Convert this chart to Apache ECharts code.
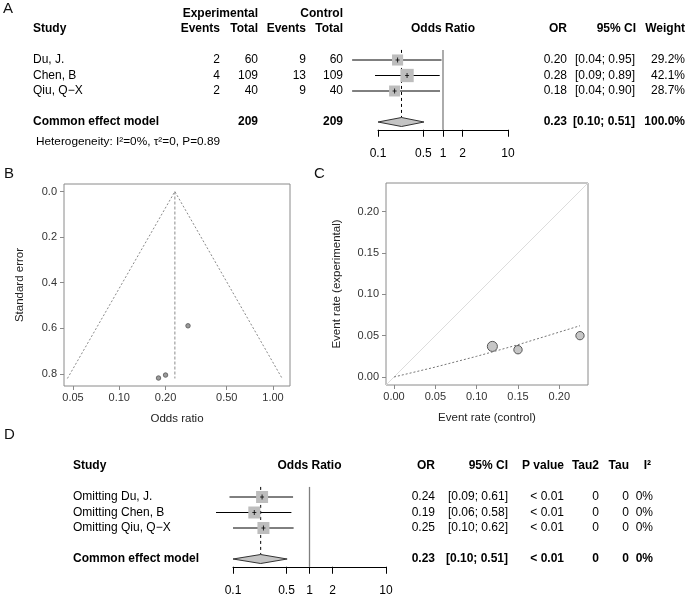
<!DOCTYPE html>
<html>
<head>
<meta charset="utf-8">
<title>Meta-analysis panels</title>
<script src="https://cdn.jsdelivr.net/npm/echarts@6.0.0/dist/echarts.min.js"></script>
<style>
html, body { margin: 0; padding: 0; background: #fff; }
#chart { width: 694px; height: 598px; }
</style>
</head>
<body>
<div id="chart"></div>
<script>
var FONT = '"Liberation Sans", Arial, Helvetica, sans-serif';

// ---- A: common effect model ----
var studies = ['Du, J.', 'Chen, B', 'Qiu, Q\u2212X'];
var expEvents = [2, 4, 2];
var expTotal = [60, 109, 40];
var ctrlEvents = [9, 13, 9];
var ctrlTotal = [60, 109, 40];
var studyOR = [0.20, 0.28, 0.18];
var studyLow = [0.04, 0.09, 0.04];
var studyHigh = [0.95, 0.89, 0.90];
var studyWeight = [29.2, 42.1, 28.7];
var studyRows = [1, 2, 3];
var pooledRow = 5;
var pooledOR = 0.23;
var pooledLow = 0.10;
var pooledHigh = 0.51;
var pooledTotals = [209, 209];
var heterogeneity = 'Heterogeneity: I\u00b2=0%, \u03c4\u00b2=0, P=0.89';
var forestTicks = [0.1, 0.5, 1, 2, 10];
var forestTickLabels = ['0.1', '0.5', '1', '2', '10'];

// ---- B: funnel plot ----
var funnelOR = [0.20, 0.28, 0.18];
var funnelSE = [0.805, 0.589, 0.818];
var funnelEdgeOR = [0.046, 0.23, 1.147];
var funnelEdgeSE = [0.82, 0, 0.82];
var funnelXTicks = [0.05, 0.10, 0.20, 0.50, 1.00];
var funnelXLabels = ['0.05', '0.10', '0.20', '0.50', '1.00'];
var funnelYTicks = [0, 0.2, 0.4, 0.6, 0.8];
var funnelYLabels = ['0.0', '0.2', '0.4', '0.6', '0.8'];

// ---- C: L'Abbe plot ----
var ctrlRate = [0.150, 0.119, 0.225];
var expRate = [0.033, 0.037, 0.050];
var curveCtrl = [0, 0.05, 0.10, 0.15, 0.225];
var curveExp = [0, 0.012, 0.025, 0.039, 0.062];
var rateTicks = [0, 0.05, 0.10, 0.15, 0.20];
var rateLabels = ['0.00', '0.05', '0.10', '0.15', '0.20'];

// ---- D: leave-one-out ----
var looLabels = ['Omitting Du, J.', 'Omitting Chen, B', 'Omitting Qiu, Q\u2212X'];
var looOR = [0.24, 0.19, 0.25];
var looLow = [0.09, 0.06, 0.10];
var looHigh = [0.61, 0.58, 0.62];
var looP = ['< 0.01', '< 0.01', '< 0.01'];
var looTau2 = [0, 0, 0];
var looTau = [0, 0, 0];
var looI2 = ['0%', '0%', '0%'];
var looPooledP = '< 0.01';

// axis extents (R adds 4% around the data)
var funnelXRange = [0.0437, 1.29];
var funnelYRange = [-0.033, 0.853];
var rateRange = [-0.0097, 0.2347];

function f2(v) { return v.toFixed(2); }
function ci(lo, hi) { return '[' + f2(lo) + '; ' + f2(hi) + ']'; }
function pickLabel(ticks, labels) {
    return function (v) {
        for (var i = 0; i < ticks.length; i++) {
            if (Math.abs(ticks[i] - v) < 1e-6 * Math.max(1, ticks[i])) return labels[i];
        }
        return '';
    };
}
function font(size, bold) { return (bold ? 'bold ' : '') + size + 'px ' + FONT; }

// text table drawn on a forest grid's row scale
function tableSeries(axisIndex, rows) {
    return {
        type: 'custom', xAxisIndex: axisIndex, yAxisIndex: axisIndex,
        clip: false, silent: true, z: 5,
        data: rows.map(function (r) { return [1, r.row]; }),
        renderItem: function (params, api) {
            var p = api.coord([1, api.value(1)]);
            var r = rows[params.dataIndex];
            return {
                type: 'group',
                children: r.cells.map(function (c) {
                    return {
                        type: 'text',
                        x: c.x === 'axis' ? p[0] : c.x,
                        y: p[1],
                        style: {
                            text: c.text,
                            textAlign: c.align || 'right',
                            textVerticalAlign: 'middle',
                            font: font(c.size || 12, c.bold),
                            fill: '#000'
                        }
                    };
                })
            };
        }
    };
}

function studySeries(axisIndex, data, sideFn) {
    return {
        type: 'custom', xAxisIndex: axisIndex, yAxisIndex: axisIndex,
        clip: false, silent: true, z: 3,
        data: data,
        renderItem: function (params, api) {
            var p = api.coord([api.value(0), api.value(3)]);
            var lo = api.coord([api.value(1), api.value(3)]);
            var hi = api.coord([api.value(2), api.value(3)]);
            var s = sideFn(api.value(4));
            return {
                type: 'group',
                children: [
                    { type: 'line', shape: { x1: lo[0], y1: p[1], x2: hi[0], y2: p[1] }, style: { stroke: '#000', lineWidth: 1 } },
                    { type: 'rect', shape: { x: p[0] - s / 2, y: p[1] - s / 2, width: s, height: s }, style: { fill: '#bdbdbd' } },
                    { type: 'line', shape: { x1: p[0] - 2, y1: p[1], x2: p[0] + 2, y2: p[1] }, style: { stroke: '#000', lineWidth: 0.8 } },
                    { type: 'line', shape: { x1: p[0], y1: p[1] - 2.5, x2: p[0], y2: p[1] + 2.5 }, style: { stroke: '#000', lineWidth: 0.8 } }
                ]
            };
        }
    };
}

function pooledSeries(axisIndex) {
    return {
        type: 'custom', xAxisIndex: axisIndex, yAxisIndex: axisIndex,
        clip: false, silent: true, z: 2,
        data: [[pooledOR, pooledLow, pooledHigh, pooledRow]],
        renderItem: function (params, api) {
            var row = api.value(3);
            var c = api.coord([api.value(0), row]);
            var l = api.coord([api.value(1), row]);
            var r = api.coord([api.value(2), row]);
            var top = api.coord([1, 0.35]);
            var bottom = api.coord([1, 5.5]);
            var h = 4.5;
            return {
                type: 'group',
                children: [
                    { type: 'line', shape: { x1: top[0], y1: top[1], x2: bottom[0], y2: bottom[1] }, style: { stroke: '#7f7f7f', lineWidth: 1.3 } },
                    { type: 'line', shape: { x1: c[0], y1: top[1], x2: c[0], y2: c[1] - h }, style: { stroke: '#000', lineWidth: 1, lineDash: [3, 3] } },
                    { type: 'polygon', shape: { points: [[l[0], c[1]], [c[0], c[1] - h], [r[0], c[1]], [c[0], c[1] + h]] }, style: { fill: '#c4c4c4', stroke: '#333', lineWidth: 1 } }
                ]
            };
        }
    };
}

function forestXAxis(gridIndex) {
    return {
        type: 'log', logBase: 10, gridIndex: gridIndex, min: 0.1, max: 10,
        axisLine: { onZero: false, lineStyle: { color: '#000', width: 1 } },
        axisTick: { customValues: forestTicks, length: 7, lineStyle: { color: '#000' } },
        axisLabel: { customValues: forestTicks, margin: 18, fontFamily: FONT, fontSize: 12, color: '#000', formatter: pickLabel(forestTicks, forestTickLabels) },
        splitLine: { show: false }, minorTick: { show: false }
    };
}
function forestYAxis(gridIndex) {
    return { type: 'value', gridIndex: gridIndex, inverse: true, min: -2.5, max: 5.5, show: false };
}

var greyLine = { color: '#8a8a8a', width: 1 };
var smallLabel = { fontFamily: FONT, fontSize: 11, color: '#333' };
var axisName = { fontFamily: FONT, fontSize: 11.5, color: '#222' };

// ---- table rows ----
var rowsA = [
    { row: -2, cells: [
        { text: 'Experimental', x: 258, bold: true },
        { text: 'Control', x: 343, bold: true }
    ] },
    { row: -1, cells: [
        { text: 'Study', x: 33, align: 'left', bold: true },
        { text: 'Events', x: 220, bold: true },
        { text: 'Total', x: 258, bold: true },
        { text: 'Events', x: 306, bold: true },
        { text: 'Total', x: 343, bold: true },
        { text: 'Odds Ratio', x: 'axis', align: 'center', bold: true },
        { text: 'OR', x: 567, bold: true },
        { text: '95% CI', x: 636, bold: true },
        { text: 'Weight', x: 685, bold: true }
    ] }
];
studies.forEach(function (name, i) {
    rowsA.push({ row: studyRows[i], cells: [
        { text: name, x: 33, align: 'left' },
        { text: String(expEvents[i]), x: 220 },
        { text: String(expTotal[i]), x: 258 },
        { text: String(ctrlEvents[i]), x: 306 },
        { text: String(ctrlTotal[i]), x: 343 },
        { text: f2(studyOR[i]), x: 567 },
        { text: ci(studyLow[i], studyHigh[i]), x: 635 },
        { text: studyWeight[i].toFixed(1) + '%', x: 685 }
    ] });
});
rowsA.push({ row: pooledRow, cells: [
    { text: 'Common effect model', x: 33, align: 'left', bold: true },
    { text: String(pooledTotals[0]), x: 258, bold: true },
    { text: String(pooledTotals[1]), x: 343, bold: true },
    { text: f2(pooledOR), x: 567, bold: true },
    { text: ci(pooledLow, pooledHigh), x: 635, bold: true },
    { text: '100.0%', x: 685, bold: true }
] });
rowsA.push({ row: 6.3, cells: [{ text: heterogeneity, x: 36, align: 'left', size: 11.8 }] });

var rowsD = [
    { row: -1.05, cells: [
        { text: 'Study', x: 73, align: 'left', bold: true },
        { text: 'Odds Ratio', x: 'axis', align: 'center', bold: true },
        { text: 'OR', x: 435, bold: true },
        { text: '95% CI', x: 508, bold: true },
        { text: 'P value', x: 564, bold: true },
        { text: 'Tau2', x: 599, bold: true },
        { text: 'Tau', x: 629, bold: true },
        { text: 'I\u00b2', x: 651, bold: true }
    ] }
];
looLabels.forEach(function (name, i) {
    rowsD.push({ row: studyRows[i], cells: [
        { text: name, x: 73, align: 'left' },
        { text: f2(looOR[i]), x: 435 },
        { text: ci(looLow[i], looHigh[i]), x: 508 },
        { text: looP[i], x: 564 },
        { text: String(looTau2[i]), x: 599 },
        { text: String(looTau[i]), x: 629 },
        { text: looI2[i], x: 653 }
    ] });
});
rowsD.push({ row: pooledRow, cells: [
    { text: 'Common effect model', x: 73, align: 'left', bold: true },
    { text: f2(pooledOR), x: 435, bold: true },
    { text: ci(pooledLow, pooledHigh), x: 508, bold: true },
    { text: looPooledP, x: 564, bold: true },
    { text: '0', x: 599, bold: true },
    { text: '0', x: 629, bold: true },
    { text: '0%', x: 653, bold: true }
] });

var option = {
    animation: false,
    backgroundColor: '#fff',
    textStyle: { fontFamily: FONT },
    grid: [
        { left: 378, top: 5.75, width: 130, height: 124 },
        { left: 64, top: 184, width: 226, height: 202, show: true, borderColor: '#8a8a8a', borderWidth: 1, backgroundColor: '#fff' },
        { left: 386, top: 183, width: 202, height: 202, show: true, borderColor: '#8a8a8a', borderWidth: 1, backgroundColor: '#fff' },
        { left: 233, top: 442.75, width: 153, height: 124 }
    ],
    xAxis: [
        forestXAxis(0),
        {
            type: 'log', logBase: 10, gridIndex: 1, min: funnelXRange[0], max: funnelXRange[1],
            name: 'Odds ratio', nameLocation: 'middle', nameGap: 27, nameTextStyle: axisName,
            axisLine: { show: false, onZero: false },
            axisTick: { customValues: funnelXTicks, length: 4, lineStyle: greyLine },
            axisLabel: Object.assign({ customValues: funnelXTicks, margin: 6, formatter: pickLabel(funnelXTicks, funnelXLabels) }, smallLabel),
            splitLine: { show: false }, minorTick: { show: false }
        },
        {
            type: 'value', gridIndex: 2, min: rateRange[0], max: rateRange[1],
            name: 'Event rate (control)', nameLocation: 'middle', nameGap: 27, nameTextStyle: axisName,
            axisLine: { show: false, onZero: false },
            axisTick: { customValues: rateTicks, length: 4, lineStyle: greyLine },
            axisLabel: Object.assign({ customValues: rateTicks, margin: 6, formatter: pickLabel(rateTicks, rateLabels) }, smallLabel),
            splitLine: { show: false }
        },
        forestXAxis(3)
    ],
    yAxis: [
        forestYAxis(0),
        {
            type: 'value', gridIndex: 1, inverse: true, min: funnelYRange[0], max: funnelYRange[1],
            name: 'Standard error', nameLocation: 'middle', nameGap: 38, nameRotate: 90, nameTextStyle: axisName,
            axisLine: { show: false, onZero: false },
            axisTick: { customValues: funnelYTicks, length: 4, lineStyle: greyLine },
            axisLabel: Object.assign({ customValues: funnelYTicks, margin: 7, formatter: pickLabel(funnelYTicks, funnelYLabels) }, smallLabel),
            splitLine: { show: false }
        },
        {
            type: 'value', gridIndex: 2, min: rateRange[0], max: rateRange[1],
            name: 'Event rate (experimental)', nameLocation: 'middle', nameGap: 43, nameRotate: 90, nameTextStyle: axisName,
            axisLine: { show: false, onZero: false },
            axisTick: { customValues: rateTicks, length: 4, lineStyle: greyLine },
            axisLabel: Object.assign({ customValues: rateTicks, margin: 7, formatter: pickLabel(rateTicks, rateLabels) }, smallLabel),
            splitLine: { show: false }
        },
        forestYAxis(3)
    ],
    graphic: [
        { type: 'text', left: 3, top: 1, style: { text: 'A', font: '15px ' + FONT, fill: '#111' } },
        { type: 'text', left: 4, top: 166, style: { text: 'B', font: '15px ' + FONT, fill: '#111' } },
        { type: 'text', left: 314, top: 166, style: { text: 'C', font: '15px ' + FONT, fill: '#111' } },
        { type: 'text', left: 4, top: 427, style: { text: 'D', font: '15px ' + FONT, fill: '#111' } }
    ],
    series: [
        // A
        pooledSeries(0),
        studySeries(0, studyOR.map(function (v, i) {
            return [v, studyLow[i], studyHigh[i], studyRows[i], studyWeight[i]];
        }), function (w) { return 2.05 * Math.sqrt(w); }),
        tableSeries(0, rowsA),

        // B
        {
            type: 'line', xAxisIndex: 1, yAxisIndex: 1, silent: true, symbol: 'none',
            data: funnelEdgeOR.map(function (v, i) { return [v, funnelEdgeSE[i]]; }),
            lineStyle: { color: '#8a8a8a', width: 1, type: [2, 2] }
        },
        {
            type: 'line', xAxisIndex: 1, yAxisIndex: 1, silent: true, symbol: 'none',
            data: [[funnelEdgeOR[1], funnelEdgeSE[1]], [funnelEdgeOR[1], funnelEdgeSE[0]]],
            lineStyle: { color: '#8a8a8a', width: 1, type: [3, 2] }
        },
        {
            type: 'scatter', xAxisIndex: 1, yAxisIndex: 1, silent: true, symbolSize: 4.5,
            data: funnelOR.map(function (v, i) { return [v, funnelSE[i]]; }),
            itemStyle: { color: '#9a9a9a', borderColor: '#555', borderWidth: 0.8, opacity: 1 }
        },

        // C
        {
            type: 'line', xAxisIndex: 2, yAxisIndex: 2, silent: true, symbol: 'none',
            data: [[rateRange[0], rateRange[0]], [rateRange[1], rateRange[1]]],
            lineStyle: { color: '#dcdcdc', width: 1 }
        },
        {
            type: 'line', xAxisIndex: 2, yAxisIndex: 2, silent: true, symbol: 'none',
            data: curveCtrl.map(function (v, i) { return [v, curveExp[i]]; }),
            lineStyle: { color: '#777', width: 1, type: [2, 2] }
        },
        {
            type: 'scatter', xAxisIndex: 2, yAxisIndex: 2, silent: true,
            data: ctrlRate.map(function (v, i) { return [v, expRate[i], studyWeight[i]]; }),
            symbolSize: function (val) { return 1.55 * Math.sqrt(val[2]); },
            itemStyle: { color: '#c6c6c6', borderColor: '#555', borderWidth: 1, opacity: 1 }
        },

        // D
        pooledSeries(3),
        studySeries(3, looOR.map(function (v, i) {
            return [v, looLow[i], looHigh[i], studyRows[i], 1];
        }), function () { return 12; }),
        tableSeries(3, rowsD)
    ]
};

var chart = echarts.init(document.getElementById('chart'));
chart.setOption(option);
</script>
</body>
</html>
